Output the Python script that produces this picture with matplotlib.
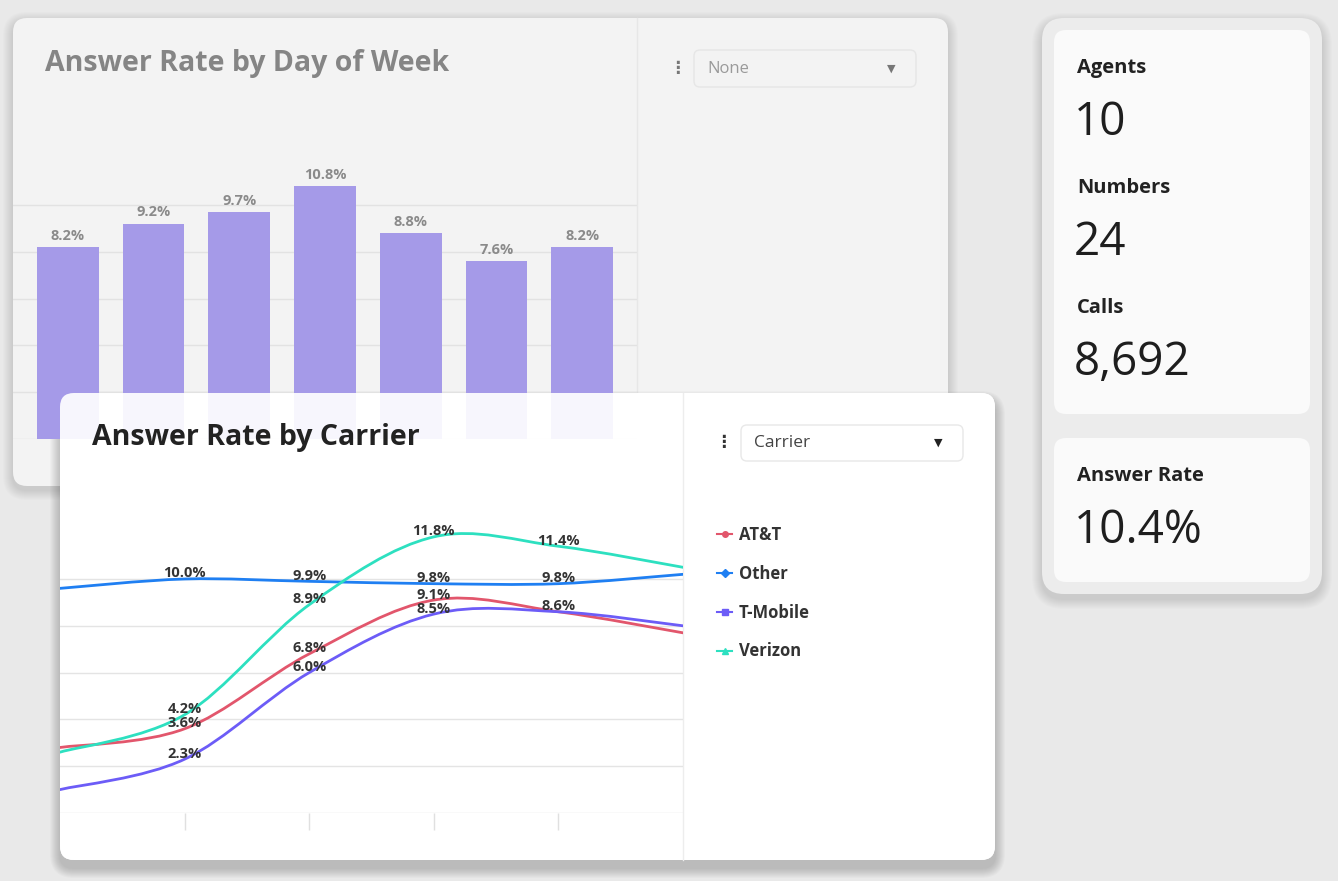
import numpy as np
import matplotlib
matplotlib.use('Agg')
import matplotlib.pyplot as plt
from matplotlib.patches import FancyBboxPatch, PathPatch
from matplotlib.path import Path
from matplotlib.lines import Line2D

plt.rcParams['font.family'] = ['Open Sans', 'DejaVu Sans']

# ---- data ----
days = ['Sun', 'Mon', 'Tue', 'Wed', 'Thu', 'Fri', 'Sat']
day_rate = [8.2, 9.2, 9.7, 10.8, 8.8, 7.6, 8.2]

periods = [0, 1, 2, 3, 4, 5]
att = [2.8, 3.6, 6.8, 9.1, 8.6, 7.7]
other = [9.6, 10.0, 9.9, 9.8, 9.8, 10.2]
tmobile = [1.0, 2.3, 6.0, 8.5, 8.6, 8.0]
verizon = [2.6, 4.2, 8.9, 11.8, 11.4, 10.5]
carriers = ['AT&T', 'Other', 'T-Mobile', 'Verizon']
carrier_colors = ['#e2566c', '#1f7ff2', '#6c5cf7', '#2de0c0']
carrier_markers = ['o', 'D', 's', '^']

kpi_labels = ['Agents', 'Numbers', 'Calls']
kpi_values = ['10', '24', '8,692']
answer_rate = '10.4%'

W, H = 1338, 881
fig = plt.figure(figsize=(W / 100, H / 100), dpi=100)
fig.patch.set_facecolor('#e9e9e9')


def pix_axes(x, y, w, h, z):
    return fig.add_axes([x / W, 1 - (y + h) / H, w / W, h / H], zorder=z)


def canvas(z):
    ax = pix_axes(0, 0, W, H, z)
    ax.set_xlim(0, W)
    ax.set_ylim(H, 0)
    ax.axis('off')
    ax.patch.set_alpha(0)
    return ax


def card(ax, x, y, w, h, fc, r=12, alpha=1, ec='none', z=1):
    ax.add_patch(FancyBboxPatch((x, y), w, h, boxstyle=f'round,pad=0,rounding_size={r}',
                                fc=fc, ec=ec, lw=1, alpha=alpha, zorder=z))


def shadow(ax, x, y, w, h, r, dy=6, n=12, a=0.02, z=1):
    for s in range(1, n + 1):
        ax.add_patch(FancyBboxPatch((x - s, y - s + dy), w + 2 * s, h + 2 * s,
                                    boxstyle=f'round,pad=0,rounding_size={r + s}',
                                    fc='black', ec='none', alpha=a, zorder=z))


def smooth(ax, xs, ys, color):
    # catmull-rom segments drawn as cubic beziers
    pts = np.column_stack([xs, ys]).astype(float)
    ext = np.vstack([pts[0], pts, pts[-1]])
    verts = [pts[0]]
    codes = [Path.MOVETO]
    for i in range(1, len(ext) - 2):
        p0, p1, p2, p3 = ext[i - 1], ext[i], ext[i + 1], ext[i + 2]
        verts += [p1 + (p2 - p0) / 6, p2 - (p3 - p1) / 6, p2]
        codes += [Path.CURVE4] * 3
    ax.add_patch(PathPatch(Path(verts, codes), fill=False, ec=color, lw=2.0,
                           capstyle='round', zorder=3))


# ---- back layer ----
bg = canvas(0)
shadow(bg, 13, 18, 935, 468, 14, dy=4, n=10, a=0.01)
card(bg, 13, 18, 935, 468, '#f3f3f3', r=14)
bg.plot([637, 637], [18, 486], color='#e7e7e7', lw=1, zorder=1.5)
bg.text(45, 64, 'Answer Rate by Day of Week', fontsize=20.5, fontweight='bold',
        color='#858585', va='center')
bg.text(677, 68, '⋮', fontsize=12, fontweight='bold', color='#777777', va='center',
        ha='center', family='DejaVu Sans')
card(bg, 694, 50, 222, 37, '#f3f3f3', r=6, ec='#e6e6e6')
bg.text(707, 69, 'None', fontsize=12, color='#9a9a9a', va='center')
bg.text(891, 69, '▼', fontsize=8, color='#777777', va='center', ha='center',
        family='DejaVu Sans')

# right kpi cards
shadow(bg, 1042, 18, 280, 576, 22, dy=5, n=10, a=0.012)
card(bg, 1042, 18, 280, 576, '#ececec', r=22)
card(bg, 1054, 30, 256, 384, '#fafafa', r=12)
card(bg, 1054, 438, 256, 144, '#fafafa', r=12)
for i, (lab, val) in enumerate(zip(kpi_labels, kpi_values)):
    y0 = 68 + i * 120
    bg.text(1077, y0, lab, fontsize=14.5, fontweight='bold', color='#222222', va='center')
    bg.text(1074, y0 + 55, val, fontsize=33, color='#1e1e1e', va='center')
bg.text(1077, 476, 'Answer Rate', fontsize=14.5, fontweight='bold', color='#222222', va='center')
bg.text(1074, 531, answer_rate, fontsize=33, color='#1e1e1e', va='center')

# front card shadow + opaque underlay
shadow(bg, 60, 393, 935, 467, 14, dy=8, n=10, a=0.02, z=3.9)
card(bg, 60, 393, 935, 467, '#ffffff', r=14, z=4)

# ---- bar chart (back card) ----
axb = pix_axes(13, 158, 624, 281, 1)
axb.patch.set_alpha(0)
xb = np.arange(len(days))
bars = axb.bar(xb, day_rate, width=0.72, color='#a59ae8', zorder=2)
for x, v in zip(xb, day_rate):
    axb.annotate(f'{v}%', (x, v), xytext=(0, 8), textcoords='offset points',
                 ha='center', va='center', fontsize=10.5, fontweight='bold', color='#8a8a8a')
axb.set_xlim(-0.64, len(days) - 0.36)
axb.set_ylim(0, 12)
axb.set_yticks(range(0, 11, 2))
axb.grid(axis='y', color='#e2e2e2', lw=1, zorder=0)
axb.tick_params(left=False, bottom=False, labelleft=False, labelbottom=False)
for s in axb.spines.values():
    s.set_visible(False)

# ---- front card ----
fr = canvas(2)
card(fr, 60, 393, 935, 467, '#ffffff', r=14, alpha=0.92)
fr.plot([683, 683], [393, 860], color='#ededed', lw=1)
fr.text(92, 437, 'Answer Rate by Carrier', fontsize=20.5, fontweight='bold',
        color='#222222', va='center')
fr.text(723, 442, '⋮', fontsize=12, fontweight='bold', color='#333333', va='center',
        ha='center', family='DejaVu Sans')
card(fr, 741, 425, 222, 36, '#ffffff', r=6, ec='#e8e8e8')
fr.text(754, 443, 'Carrier', fontsize=12.5, color='#444444', va='center')
fr.text(938, 443, '▼', fontsize=8, color='#222222', va='center', ha='center',
        family='DejaVu Sans')

# ---- line chart ----
axl = pix_axes(60, 486, 623, 327, 3)
axl.patch.set_alpha(0)
series = [att, other, tmobile, verizon]
for vals, col in zip(series, carrier_colors):
    smooth(axl, periods, vals, col)
seen = set()
for vals in series:
    for x, v in zip(periods[1:-1], vals[1:-1]):
        if (x, v) in seen:
            continue
        seen.add((x, v))
        axl.annotate(f'{v}%', (x, v), xytext=(0, 4), textcoords='offset points',
                     ha='center', va='center', fontsize=10.5, fontweight='bold',
                     color='#333333', zorder=4)
axl.set_xlim(0, 5)
axl.set_ylim(0, 327 / 23.4)
axl.set_yticks(range(0, 11, 2))
axl.set_xticks(periods[1:-1])
axl.grid(axis='y', color='#e4e4e4', lw=1, zorder=0)
axl.tick_params(axis='y', left=False, labelleft=False)
axl.tick_params(axis='x', direction='out', length=12, color='#e0e0e0', width=1,
                labelbottom=False)
for s in axl.spines.values():
    s.set_visible(False)

handles = [Line2D([0], [0], color=c, marker=m, lw=1.5, markersize=4)
           for c, m in zip(carrier_colors, carrier_markers)]
leg = axl.legend(handles, carriers, loc='upper left', bbox_to_anchor=(702 / W, 1 - 511 / H),
                 bbox_transform=fig.transFigure, frameon=False, handlelength=0.9,
                 handletextpad=0.4, labelspacing=1.25,
                 prop={'weight': 'bold', 'size': 12})
for t in leg.get_texts():
    t.set_color('#333333')

fig.savefig('out.png', dpi=100, facecolor=fig.get_facecolor())
